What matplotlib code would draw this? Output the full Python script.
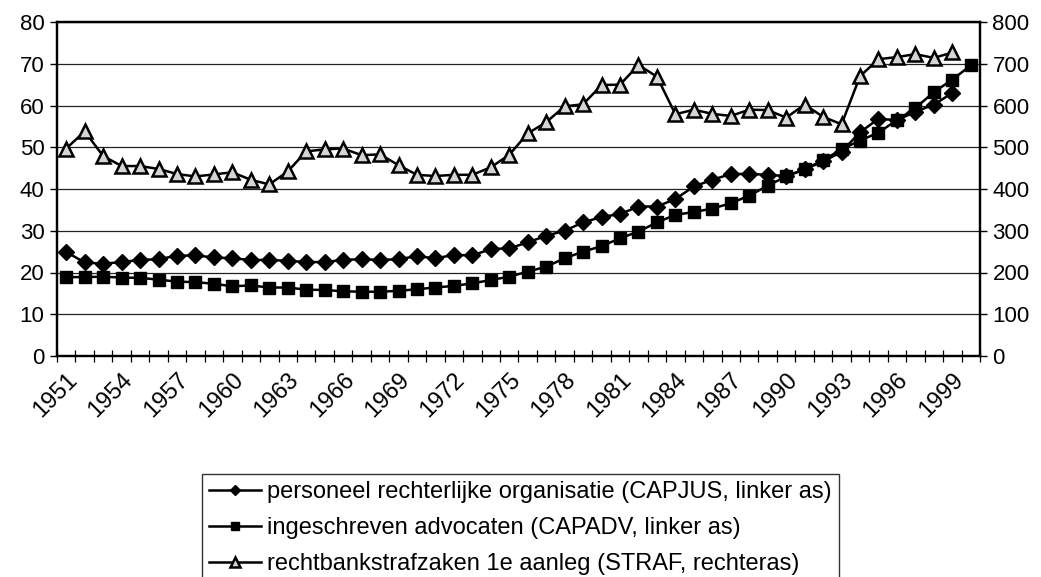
import matplotlib
matplotlib.use("Agg")
import matplotlib.pyplot as plt
from matplotlib.ticker import MultipleLocator, FixedLocator, NullFormatter

plt.rcParams['font.family'] = ['Liberation Sans', 'DejaVu Sans']

years = list(range(1951, 2001))

capjus = [24.9, 22.4, 22.1, 22.5, 23.0, 23.2, 24.0, 24.1, 23.6, 23.4,
          23.0, 23.0, 22.8, 22.5, 22.5, 23.0, 23.2, 23.0, 23.2, 23.9,
          23.4, 24.2, 24.1, 25.6, 25.8, 27.2, 28.8, 30.0, 32.0, 33.3,
          34.0, 35.8, 35.8, 37.6, 40.6, 42.2, 43.6, 43.6, 43.4, 43.1,
          44.7, 46.6, 48.9, 53.6, 56.8, 56.5, 58.5, 60.2, 63.0]

capadv = [18.9, 18.9, 19.0, 18.8, 18.7, 18.3, 17.8, 17.7, 17.3, 16.7,
          16.9, 16.4, 16.4, 15.9, 15.8, 15.5, 15.4, 15.4, 15.6, 16.0,
          16.4, 16.8, 17.4, 18.2, 19.0, 20.2, 21.4, 23.4, 25.0, 26.3,
          28.2, 29.8, 32.0, 33.8, 34.5, 35.3, 36.6, 38.4, 40.8, 43.0,
          44.7, 46.9, 49.5, 51.6, 53.5, 56.5, 59.4, 63.2, 66.2, 69.6]

straf = [497, 538, 479, 455, 455, 448, 436, 430, 435, 440,
         422, 411, 442, 490, 495, 497, 481, 483, 457, 434,
         431, 434, 434, 452, 482, 533, 560, 598, 603, 649,
         650, 697, 669, 579, 590, 580, 575, 590, 589, 571,
         602, 573, 555, 670, 711, 716, 723, 714, 727]

label_capjus = "personeel rechterlijke organisatie (CAPJUS, linker as)"
label_capadv = "ingeschreven advocaten (CAPADV, linker as)"
label_straf = "rechtbankstrafzaken 1e aanleg (STRAF, rechteras)"

W, H = 1041, 577
fig = plt.figure(figsize=(W / 100, H / 100), dpi=100)
L, R, T, B = 57, 980, 22, 356
ax = fig.add_axes([L / W, 1 - B / H, (R - L) / W, (B - T) / H])
ax2 = ax.twinx()

n = len(years)
x_all = list(range(n))

h1, = ax.plot(x_all[:len(capjus)], capjus, color='black', lw=1.8, marker='D',
              markersize=8, markerfacecolor='black', markeredgecolor='black',
              label=label_capjus, zorder=3)
h2, = ax.plot(x_all[:len(capadv)], capadv, color='black', lw=1.8, marker='s',
              markersize=9, markerfacecolor='black', markeredgecolor='black',
              label=label_capadv, zorder=3)
h3, = ax2.plot(x_all[:len(straf)], straf, color='black', lw=1.8, marker='^',
               markersize=10, markerfacecolor='#d4d4d4', markeredgecolor='black',
               markeredgewidth=1.8, label=label_straf, zorder=3)

ax.set_xlim(-0.5, n - 0.5)
ax.set_ylim(0, 80)
ax2.set_ylim(0, 800)
ax.yaxis.set_major_locator(MultipleLocator(10))
ax2.yaxis.set_major_locator(MultipleLocator(100))
ax.grid(axis='y', color='#222222', lw=0.9)
ax.set_axisbelow(True)

# category boundaries as ticks, labels every third year at category centre
ax.xaxis.set_major_locator(FixedLocator([i - 0.5 for i in range(n + 1)]))
ax.xaxis.set_major_formatter(NullFormatter())
ax.tick_params(axis='x', which='major', direction='inout', length=9, width=0.9)
ax.xaxis.set_minor_locator(FixedLocator(x_all[::3]))
ax.set_xticklabels([str(y) for y in years[::3]], minor=True)
ax.tick_params(axis='x', which='minor', length=0, pad=9)
for lab in ax.get_xticklabels(minor=True):
    lab.set_rotation(45)
    lab.set_ha('right')
    lab.set_va('top')
    lab.set_rotation_mode('anchor')
    lab.set_fontsize(17)

ax.tick_params(axis='y', labelsize=16, length=5, width=1, direction='out', pad=4)
ax2.tick_params(axis='y', labelsize=16, length=5, width=1, direction='out', pad=4)

for a in (ax, ax2):
    for s in a.spines.values():
        s.set_linewidth(1.6)
        s.set_color('black')

leg = fig.legend(handles=[h1, h2, h3], loc='upper left',
                 bbox_to_anchor=(202 / W, 1 - 474 / H), frameon=True,
                 fancybox=False, edgecolor='black', fontsize=17,
                 handlelength=2.2, handletextpad=0.25, labelspacing=0.6,
                 borderpad=0.3, borderaxespad=0, markerscale=0.65)
leg.get_frame().set_linewidth(1.0)

fig.savefig("out.png", dpi=100)
